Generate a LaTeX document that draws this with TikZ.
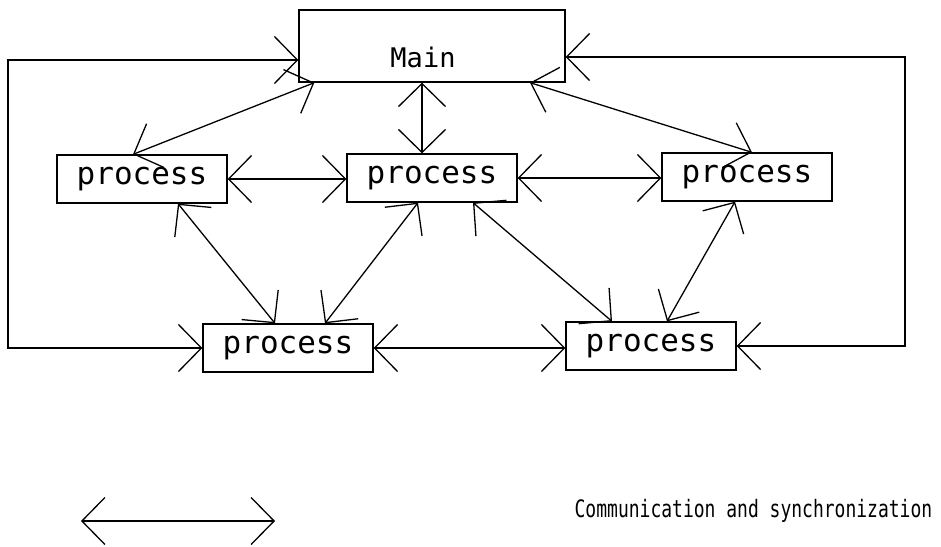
\documentclass[tikz,border=0pt]{standalone}
\usepackage{fontspec}
\usepackage{graphicx}
\newfontfamily\plotfont{DejaVu Sans Mono}
\usetikzlibrary{arrows.meta}
\begin{document}
\begin{tikzpicture}[x=1pt,y=-1pt,line width=1.3pt,>={Straight Barb[length=23pt,width=47pt]}]
        \tikzstyle{every node}=[inner sep=0pt,font=\plotfont\fontsize{31}{31}\selectfont]
        \tikzstyle{proc}=[draw,minimum width=170pt,minimum height=48pt]
        \useasboundingbox (0,0) rectangle (941,546);
        \node[draw,minimum width=266pt,minimum height=72pt] (main) at (432,46) {};
        \node[font=\plotfont\fontsize{27}{27}\selectfont] (maintxt) at (423,57) {Main};
        \node[proc] (tl) at (142,179) {process};
        \node[proc] (tm) at (432,178) {process};
        \node[proc] (tr) at (747,177) {process};
        \node[proc] (bl) at (288,348) {process};
        \node[proc] (br) at (651,346) {process};
        \coordinate (lft) at (8,0);
        \coordinate (rgt) at (905,0);
        \coordinate (lga) at (81,521);
        \coordinate (lgb) at (275,521);
        \draw[<->] ([xshift=16pt]main.south west) -- ([xshift=-9pt]tl.north);
        \draw[<->] ([xshift=-10pt]main.south) -- ([xshift=-10pt]tm.north);
        \draw[<->] ([xshift=98pt]main.south) -- ([xshift=5pt]tr.north);
        \draw[<->] (tl.east) -- (tl.east -| tm.west);
        \draw[<->] (tm.east) -- (tm.east -| tr.west);
        \draw[<->] ([xshift=36pt]tl.south) -- ([xshift=-13pt]bl.north);
        \draw[<->] ([xshift=-14pt]tm.south) -- ([xshift=37pt]bl.north);
        \draw[<->] ([xshift=41pt]tm.south) -- ([xshift=-39pt]br.north);
        \draw[<->] ([xshift=-12pt]tr.south) -- ([xshift=16pt]br.north);
        \draw[<->] (bl.east) -- (bl.east -| br.west);
        \draw[<->] ([yshift=-14pt]main.west) -| (lft |- bl.west) -- (bl.west);
        \draw[<->] ([yshift=-11pt]main.east) -| (rgt |- br.east) -- (br.east);
        \draw[<->] (lga) -- (lgb);
        \node[anchor=base west,font=\plotfont\fontsize{24}{24}\selectfont] (lgtxt) at (574,517) {\scalebox{0.75}[1]{Communication and synchronization}};
    \end{tikzpicture}
\end{document}
